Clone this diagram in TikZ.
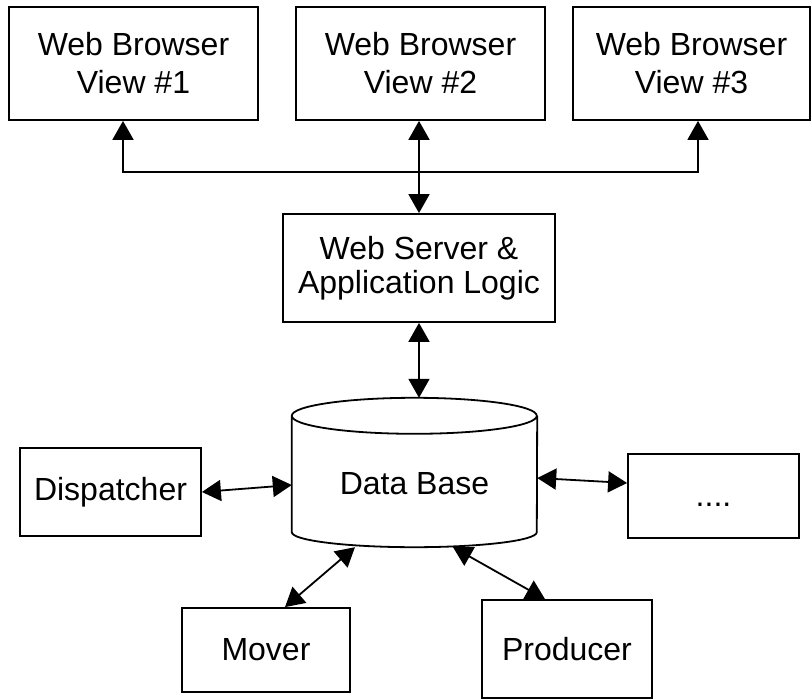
\documentclass[tikz,border=0pt]{standalone}
\usepackage{fontspec}
\setmainfont{Liberation Sans}
\usetikzlibrary{arrows.meta, calc}
\tikzstyle{box} = [rectangle, draw=black, line width=1.8pt, align=center, inner sep=0pt, font=\fontsize{32}{38}\selectfont]
\tikzstyle{link} = [line width=1.8pt, >={Triangle[length=19pt, width=21pt]}, <->]

\begin{document}
\begin{tikzpicture}[x=1pt, y=-1pt]
	\useasboundingbox (0,0) rectangle (812,700);

	% browser views
	\node[box, minimum width=249pt, minimum height=113pt] (view1) at (133.5,63.5) {Web Browser\\View \#1};
	\node[box, minimum width=249pt, minimum height=113pt] (view2) at (420.5,63.5) {Web Browser\\View \#2};
	\node[box, minimum width=237pt, minimum height=113pt] (view3) at (691.5,63.5) {Web Browser\\View \#3};

	% server
	\node[box, minimum width=272pt, minimum height=108pt, font=\fontsize{32}{34}\selectfont] (server) at (419,268) {Web Server \&\\Application Logic};

	% data base (cylinder drawn below)
	\node[minimum width=245pt, minimum height=149pt, inner sep=0pt, text height=45pt, text depth=0pt, font=\fontsize{32}{38}\selectfont] (db) at (414.5,472.5) {Data Base};
	\draw[line width=1.8pt]
		([yshift=-18pt]db.north west) arc[start angle=180, end angle=540, x radius=122.5pt, y radius=18pt]
		-- ([yshift=15pt]db.south west)
		arc[start angle=180, end angle=360, x radius=122.5pt, y radius=15pt]
		-- ([yshift=-18pt]db.north east);

	% clients of the data base
	\node[box, minimum width=181pt, minimum height=88pt] (disp) at (110.5,492) {Dispatcher};
	\node[box, minimum width=171pt, minimum height=84pt, text height=22pt, text depth=0pt] (more) at (713.5,496) {....};
	\node[box, minimum width=168pt, minimum height=84pt] (mover) at (266,650) {Mover};
	\node[box, minimum width=170pt, minimum height=98pt] (producer) at (567,649) {Producer};

	% links
	\coordinate (bus) at (419,172);
	\draw[link] ([xshift=-10.5pt]view1.south) |- (bus) -| ([xshift=6.5pt]view3.south);
	\draw[link] (view2.south -| server.north) -- (server.north);
	\draw[link] (server.south) -- (server.south |- db.north);
	\draw[link] (disp.east) -- ([yshift=-12.5pt]db.west);
	\draw[link] ([yshift=-5.5pt]db.east) -- ([yshift=13pt]more.west);
	\draw[link] ([xshift=-59.5pt]db.south) -- ([xshift=19pt]mover.north);
	\draw[link] ([xshift=38.5pt]db.south) -- ([xshift=-22pt]producer.north);
\end{tikzpicture}
\end{document}
